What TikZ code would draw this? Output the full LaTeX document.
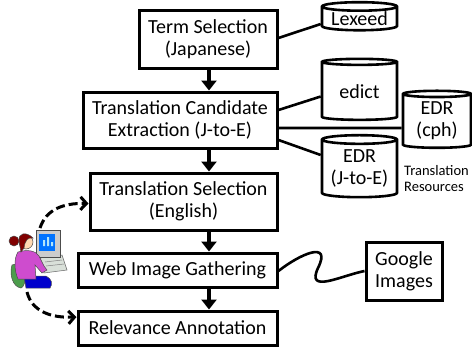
\documentclass[tikz,border=0pt]{standalone}
\usepackage{fontspec}
\setmainfont{Carlito}
\usetikzlibrary{arrows.meta,shapes.geometric}

\begin{document}
\begin{tikzpicture}[
    x=1pt, y=-1pt,
    stage/.style={draw, line width=3pt, align=center, inner sep=0pt,
                  font=\fontsize{20}{22}\selectfont},
    resource/.style={cylinder, shape border rotate=90, draw, line width=2.6pt,
                     aspect=0.15, align=center, inner sep=0pt,
                     font=\fontsize{20}{22}\selectfont},
    note/.style={align=left, inner sep=0pt,
                 font=\fontsize{14.5}{16.5}\selectfont},
    flow/.style={line width=3.6pt, -{Triangle[length=10pt,width=15pt]}},
    link/.style={line width=2.6pt},
    human/.style={line width=3pt, dash pattern=on 9pt off 4pt,
                  -{Straight Barb[length=6pt,width=13pt,line width=3pt]}},
]
\useasboundingbox (0,0) rectangle (472,346);

% Pipeline stages
\node[stage, minimum width=138pt, minimum height=58pt] (term) at (208,39)
    {Term Selection\\(Japanese)};
\node[stage, minimum width=194pt, minimum height=56pt] (cand) at (180,120)
    {Translation Candidate\\Extraction (J-to-E)};
\node[stage, minimum width=187pt, minimum height=57pt] (tsel) at (183.5,201.5)
    {Translation Selection\\(English)};
\node[stage, minimum width=199pt, minimum height=34pt] (web) at (177.5,270)
    {Web Image Gathering};
\node[stage, minimum width=199pt, minimum height=34pt] (rel) at (177.5,328)
    {Relevance Annotation};

% Flow between stages
\draw[flow] (209,68) coordinate (t0) -- (t0 |- cand.north);
\draw[flow] (209,148) coordinate (t1) -- (t1 |- tsel.north);
\draw[flow] (209,230) coordinate (t2) -- (t2 |- web.north);
\draw[flow] (209,287) coordinate (t3) -- (t3 |- rel.north);

% Dictionaries
\node[resource, minimum width=75pt, minimum height=28pt] (lex) at (359.5,19)
    {\raisebox{-4pt}{Lexeed}};
\node[resource, minimum width=75pt, minimum height=61pt] (edict) at (359.5,91.5)
    {\raisebox{-5pt}{edict}};
\node[resource, minimum width=68pt, minimum height=57pt] (cph) at (437,121.5)
    {\raisebox{-6pt}{\begin{tabular}{@{}c@{}}EDR\\(cph)\end{tabular}}};
\node[resource, minimum width=75pt, minimum height=62pt] (edrje) at (359.5,169)
    {\raisebox{-6pt}{\begin{tabular}{@{}c@{}}EDR\\(J-to-E)\end{tabular}}};
\node[note, anchor=north west] (reslbl) at (404,165)
    {Translation\\Resources};

% Dictionary lookups
\draw[link] ([yshift=1pt]term.east) -- ([yshift=-5pt]lex.west);
\draw[link] ([yshift=10pt]cand.east) -- ([yshift=-5pt]edict.west);
\draw[link] ([yshift=-8pt]cand.east) -- ([yshift=-6.5pt]cph.west);
\draw[link] ([yshift=-20pt]cand.east) -- ([yshift=14pt]edrje.west);

% Search engine
\node[stage, minimum width=76pt, minimum height=58pt] (google) at (404,271)
    {Google\\Images};
\draw[link] ([yshift=-1pt]web.east) .. controls (300,254) and (332,240) .. (318,268)
    .. controls (306,294) and (340,276) .. (google.west);

% Annotator at the computer
\begin{scope}[line width=0.5pt]
  % desk and keyboard
  \filldraw[fill=green!20!black!15, draw=black!60]
      (40,258) -- (62,255) -- (67,270) -- (44,273) -- cycle;
  \draw[black!50] (45,262) -- (62,260) (46,266) -- (64,264);
  % monitor
  \filldraw[fill=black!20, draw=black!70] (36,230) rectangle (60,257);
  \fill[blue!55!cyan] (39,234) rectangle (55,251);
  \fill[cyan!30] (43,246) rectangle (45,240) (47,246) rectangle (49,237)
      (51,246) rectangle (53,242);
  % chair back
  \filldraw[fill=green!45!black!70, draw=black!70]
      (12,265) .. controls (9,275) and (13,287) .. (21,288)
      .. controls (27,286) and (26,268) .. (20,263) -- cycle;
  % trousers
  \filldraw[fill=blue!80!black, draw=black!70]
      (24,276) -- (46,276) .. controls (52,279) and (53,284) .. (50,288)
      -- (26,288) -- cycle;
  % torso and arm
  \filldraw[fill=violet!55!magenta!70, draw=black!70]
      (18,252) .. controls (28,249) and (36,251) .. (39,256)
      -- (44,266) -- (47,270) -- (42,273) -- (35,265) -- (36,279)
      -- (18,279) .. controls (14,270) and (14,258) .. cycle;
  % head and hair
  \filldraw[fill=orange!30!white, draw=black!70] (26,242) circle (7);
  \filldraw[fill=red!50!black, draw=black!70]
      (19,241) .. controls (18,233) and (26,231) .. (33,238)
      .. controls (28,237) and (25,240) .. (24,248) -- (21,252) -- cycle;
  \filldraw[fill=red!50!black, draw=black!70] (14,241) circle (5);
  % anchors for the annotation arrows
  \coordinate (usrtop) at (40,228);
  \coordinate (usrbot) at (27,292);
\end{scope}

% Manual steps
\draw[human] (usrtop) .. controls (46,210) and (62,203) .. ([yshift=-2pt]tsel.west);
\draw[human] (usrbot) .. controls (32,312) and (52,318) .. ([yshift=11pt]rel.west);

\end{tikzpicture}
\end{document}
